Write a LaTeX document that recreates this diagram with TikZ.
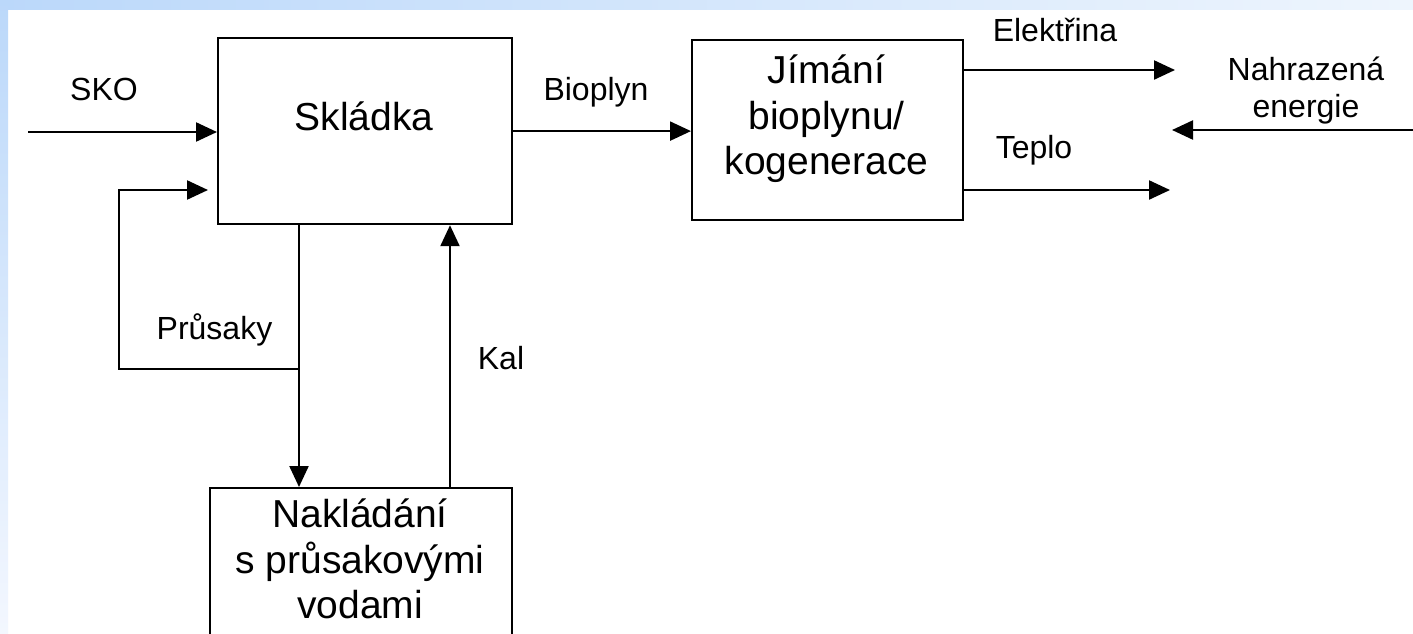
\documentclass[tikz,border=0pt]{standalone}
\usepackage{fontspec}
\setmainfont{Liberation Sans}
\usetikzlibrary{arrows.meta}
\definecolor{bandA}{RGB}{187,216,250}
\definecolor{bandB}{RGB}{238,245,253}
\definecolor{bandC}{RGB}{243,247,254}
\tikzset{
  boxshape/.style={draw=black, line width=1.1pt, rectangle, inner sep=0pt},
  boxtext/.style={font=\fontsize{19.5}{22.8}\selectfont, align=center, inner sep=0pt},
  lbl/.style={font=\fontsize{16}{18.5}\selectfont, align=center, inner sep=0pt},
  arr/.style={line width=1.15pt, -{Triangle[length=10.5pt,width=9.5pt]}},
  plain/.style={line width=1.1pt}
}
\begin{document}
\begin{tikzpicture}[x=0.5pt,y=-0.5pt]
\useasboundingbox (0,0) rectangle (1413,633);
\clip (0,0) rectangle (1413,633);
\fill[white] (0,0) rectangle (1413,633);
\shade[left color=bandA, right color=bandB] (0,0) rectangle (1413,9);
\shade[top color=bandA, bottom color=bandC] (0,0) rectangle (8,633);

% boxes
\node[boxshape, anchor=north west, minimum width=294pt*0.5, minimum height=186pt*0.5] (skl) at (217,37) {};
\node[boxtext, anchor=base] (skltxt) at (364,130) {Skládka};
\node[boxshape, anchor=north west, minimum width=271pt*0.5, minimum height=180pt*0.5] (jim) at (691,39) {};
\node[boxtext] (jimtxt) at (826.5,119) {Jímání\\bioplynu/\\kogenerace};
\node[boxshape, anchor=north west, minimum width=302pt*0.5, minimum height=200pt*0.5] (nak) at (209,487) {};
\node[boxtext] (naktxt) at (360,559) {Nakládání\\s průsakovými\\vodami};

% coordinates
\coordinate (skoin) at (28,132);
\coordinate (j) at (299,369);
\coordinate (fbL) at (119,369);
\coordinate (fbend) at (208,190);
\coordinate (kalx) at (450,300);
\coordinate (elend) at (1175,70);
\coordinate (tepend) at (1170,190);
\coordinate (nstart) at (1413,130);
\coordinate (nend) at (1172,130);

% connectors
\draw[arr] (skoin) -- (skoin -| skl.west);
\draw[arr] (skl.south -| j) -- (nak.north -| j);
\draw[arr] (j) -- (fbL) |- (fbend);
\draw[arr] (nak.north -| kalx) -- (skl.south -| kalx);
\draw[arr] (skl.east) -- (skl.east -| jim.west);
\draw[arr] (jim.east |- elend) -- (elend);
\draw[arr] (jim.east |- tepend) -- (tepend);
\draw[arr] (nstart) -- (nend);

% labels
\node[lbl, anchor=base] (sko) at (104,100) {SKO};
\node[lbl, anchor=base] (bio) at (596,100) {Bioplyn};
\node[lbl, anchor=base] (pru) at (214.5,339) {Průsaky};
\node[lbl, anchor=base] (kal) at (501,369) {Kal};
\node[lbl, anchor=base] (ele) at (1055,41) {Elektřina};
\node[lbl, anchor=base] (tep) at (1034,158) {Teplo};
\node[lbl] (nah) at (1306,91) {Nahrazená\\energie};
\end{tikzpicture}
\end{document}
